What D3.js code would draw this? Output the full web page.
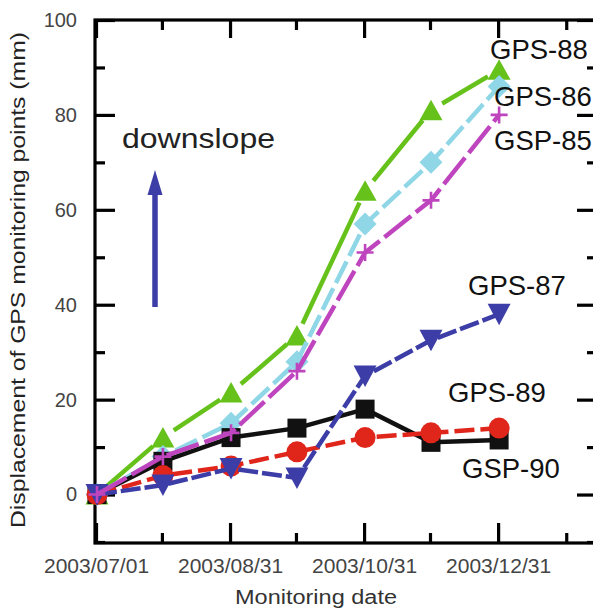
<!DOCTYPE html>
<html>
<head>
<meta charset="utf-8">
<script src="https://cdn.jsdelivr.net/npm/d3@7"></script>
<style>
  html, body { margin: 0; padding: 0; background: #fff; }
  svg { display: block; font-family: "Liberation Sans", Arial, sans-serif; }
</style>
</head>
<body>
<svg id="chart" width="593" height="610"></svg>
<script>
// ---------- data ----------
const dates = ["2003/07/01", "2003/07/31", "2003/08/31", "2003/09/30", "2003/10/31", "2003/11/30", "2003/12/31"];
const seriesNames = ["GPS-88", "GPS-86", "GSP-90", "GPS-89", "GPS-87", "GSP-85"];
const gps88 = [0, 12, 21.5, 33.5, 64, 81, 89.5];
const gps86 = [0, 8, 15, 28, 57, 70, 86];
const gsp85 = [0, 8, 13, 26, 51, 62, 80];
const gps87 = [0, 2, 5.5, 3.5, 25, 32.5, 38];
const gps89 = [0, 4, 6, 9, 12, 13, 14];
const gsp90 = [0, 7, 12, 14, 18, 11, 11.5];
const yMajorTicks = [0, 20, 40, 60, 80, 100];
const yMinorTicks = [-10, 10, 30, 50, 70, 90];
const xMajorTicks = ["2003/07/01", "2003/08/31", "2003/10/31", "2003/12/31"];
const xMinorTicks = ["2003/07/31", "2003/09/30", "2003/11/30", "2004/01/31"];
const xDomain = ["2003/07/01", "2004/02/14"];
const yDomain = [-10, 100];

// ---------- setup ----------
const parse = d3.timeParse("%Y/%m/%d");
const fmt = d3.timeFormat("%Y/%m/%d");
const svg = d3.select("#chart");
const L = 96, R = 597, T = 20, B = 542;

const x = d3.scaleTime().domain(xDomain.map(parse)).range([L, R]);
const y = d3.scaleLinear().domain(yDomain).range([B, T]);

const styles = {
  "GPS-88": { color: "#66c21a", dash: null, marker: "triUp", gap: 13 },
  "GPS-86": { color: "#8fd6e6", dash: "24,6", marker: "diamond", gap: 0 },
  "GSP-85": { color: "#bf45bf", dash: "34,6", marker: "plus", gap: 0 },
  "GPS-87": { color: "#3d3da8", dash: "20,4", marker: "triDown", gap: 0 },
  "GPS-89": { color: "#e0251b", dash: "20,6", marker: "circle", gap: 0 },
  "GSP-90": { color: "#111111", dash: null, marker: "square", gap: 0 }
};
const valuesBy = { "GPS-88": gps88, "GPS-86": gps86, "GSP-85": gsp85, "GPS-87": gps87, "GPS-89": gps89, "GSP-90": gsp90 };

const markerPath = {
  triUp: "M0,-10.5L11.5,10L-11.5,10Z",
  triDown: "M0,11L11.5,-10.5L-11.5,-10.5Z",
  diamond: "M0,-11.5L11.5,0L0,11.5L-11.5,0Z",
  square: "M-9.5,-9.5H9.5V9.5H-9.5Z",
  plus: "M-8.5,0H8.5M0,-8.5V8.5"
};

// ---------- axes ----------
const axisG = svg.append("g").attr("class", "axes");

function styleAxis(g) {
  g.select(".domain").remove();
  g.selectAll(".tick line").attr("stroke", "#000").attr("stroke-width", 3.2);
  g.selectAll(".tick text").attr("fill", "#444");
}

// left
axisG.append("g").attr("transform", `translate(${L - 1},0)`)
  .call(d3.axisLeft(y).tickValues(yMajorTicks).tickSize(-20).tickPadding(18).tickFormat(d3.format("d")))
  .call(styleAxis).call(g => g.selectAll("text").attr("font-size", 20).attr("font-family", "Liberation Sans, Arial, sans-serif"));
axisG.append("g").attr("transform", `translate(${L - 1},0)`)
  .call(d3.axisLeft(y).tickValues(yMinorTicks).tickSize(-10).tickFormat(""))
  .call(styleAxis);
// right
axisG.append("g").attr("transform", `translate(${R},0)`)
  .call(d3.axisRight(y).tickValues(yMajorTicks).tickSize(-20).tickFormat(""))
  .call(styleAxis);
axisG.append("g").attr("transform", `translate(${R},0)`)
  .call(d3.axisRight(y).tickValues(yMinorTicks).tickSize(-10).tickFormat(""))
  .call(styleAxis);
// bottom
axisG.append("g").attr("transform", `translate(0,${B + 1})`)
  .call(d3.axisBottom(x).tickValues(xMajorTicks.map(parse)).tickSize(-20).tickPadding(15).tickFormat(fmt))
  .call(styleAxis).call(g => g.selectAll("text").attr("font-size", 21).attr("font-family", "Liberation Sans, Arial, sans-serif"));
axisG.append("g").attr("transform", `translate(0,${B + 1})`)
  .call(d3.axisBottom(x).tickValues(xMinorTicks.map(parse)).tickSize(-10).tickFormat(""))
  .call(styleAxis);
// top
axisG.append("g").attr("transform", `translate(0,${T})`)
  .call(d3.axisTop(x).tickValues(xMajorTicks.map(parse)).tickSize(-18).tickFormat(""))
  .call(styleAxis);
axisG.append("g").attr("transform", `translate(0,${T})`)
  .call(d3.axisTop(x).tickValues(xMinorTicks.map(parse)).tickSize(-10).tickFormat(""))
  .call(styleAxis);

// frame
svg.append("rect").attr("x", L - 1).attr("y", T).attr("width", R - L + 1).attr("height", B + 1 - T)
  .attr("fill", "none").attr("stroke", "#000").attr("stroke-width", 3.2);

// ---------- series ----------
const plot = svg.append("g");
seriesNames.forEach(name => {
  const st = styles[name];
  const vals = valuesBy[name];
  const pts = dates.map((d, i) => [x(parse(d)) + 1, y(vals[i])]);
  const g = plot.append("g");
  if (st.gap > 0) {
    for (let i = 0; i < pts.length - 1; i++) {
      const [x0, y0] = pts[i], [x1, y1] = pts[i + 1];
      const len = Math.hypot(x1 - x0, y1 - y0);
      const ux = (x1 - x0) / len, uy = (y1 - y0) / len;
      const g0 = i === 0 ? 6 : st.gap;
      if (len <= g0 + st.gap) continue;
      g.append("line")
        .attr("x1", x0 + ux * g0).attr("y1", y0 + uy * g0)
        .attr("x2", x1 - ux * st.gap).attr("y2", y1 - uy * st.gap)
        .attr("stroke", st.color).attr("stroke-width", 4.5).attr("stroke-linecap", "butt");
    }
  } else {
    g.append("path")
      .attr("d", d3.line()(pts))
      .attr("fill", "none").attr("stroke", st.color).attr("stroke-width", 4.5)
      .attr("stroke-dasharray", st.dash).attr("stroke-linejoin", "round");
  }
  g.selectAll(".m").data(pts).join(st.marker === "circle" ? "circle" : "path")
    .each(function (p) {
      const el = d3.select(this);
      if (st.marker === "circle") {
        el.attr("cx", p[0]).attr("cy", p[1]).attr("r", 10.5).attr("fill", st.color);
      } else if (st.marker === "plus") {
        el.attr("transform", `translate(${p[0]},${p[1]})`).attr("d", markerPath.plus)
          .attr("fill", "none").attr("stroke", st.color).attr("stroke-width", 2.6);
      } else {
        el.attr("transform", `translate(${p[0]},${p[1]})`).attr("d", markerPath[st.marker]).attr("fill", st.color);
      }
    });
});

// ---------- labels ----------
const labelPos = [
  ["GPS-88", 490, 59], ["GPS-86", 494, 106], ["GSP-85", 494, 150],
  ["GPS-87", 468, 295], ["GPS-89", 448, 402], ["GSP-90", 462, 478]
];
labelPos.forEach(([t, lx, ly]) => {
  svg.append("text").attr("x", lx).attr("y", ly).attr("font-size", 27.5).attr("fill", "#111").text(t);
});

// downslope annotation
svg.append("text").attr("x", 122).attr("y", 148).attr("font-size", 28).attr("fill", "#222")
  .attr("textLength", 153).attr("lengthAdjust", "spacingAndGlyphs").text("downslope");
svg.append("line").attr("x1", 155).attr("y1", 307).attr("x2", 155).attr("y2", 190)
  .attr("stroke", "#3d3da8").attr("stroke-width", 5.5);
svg.append("path").attr("d", "M155,170L162.5,195L147.5,195Z").attr("fill", "#3d3da8");

// axis titles
svg.append("text").attr("transform", "translate(25,280) rotate(-90)")
  .attr("text-anchor", "middle").attr("font-size", 21).attr("fill", "#222")
  .attr("textLength", 496).attr("lengthAdjust", "spacingAndGlyphs")
  .text("Displacement of GPS monitoring points (mm)");
svg.append("text").attr("x", 316).attr("y", 604).attr("text-anchor", "middle")
  .attr("font-size", 19.5).attr("fill", "#333")
  .attr("textLength", 162).attr("lengthAdjust", "spacingAndGlyphs")
  .text("Monitoring date");
</script>
</body>
</html>
